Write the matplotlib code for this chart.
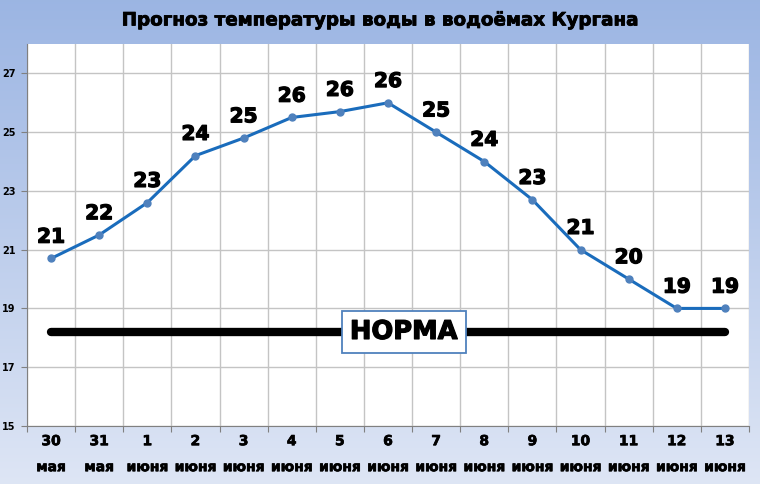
import numpy as np
import matplotlib.pyplot as plt
import matplotlib.patheffects as pe

days = ["30", "31", "1", "2", "3", "4", "5", "6", "7", "8", "9", "10", "11", "12", "13"]
months = ["мая", "мая"] + ["июня"] * 13
temps = [20.7, 21.5, 22.6, 24.2, 24.8, 25.5, 25.7, 26.0, 25.0, 24.0, 22.7, 21.0, 20.0, 19.0, 19.0]
labels = ["21", "22", "23", "24", "25", "26", "26", "26", "25", "24", "23", "21", "20", "19", "19"]
norm = 18.2

plt.rcParams['font.family'] = ['DejaVu Sans']
heavy = [pe.withStroke(linewidth=0.9, foreground="black")]

fig = plt.figure(figsize=(7.6, 4.84), dpi=100)

# background gradient
bg = fig.add_axes([0, 0, 1, 1], zorder=-10)
grad = np.linspace(0, 1, 256).reshape(-1, 1)
top = np.array([0.61, 0.71, 0.89])
bot = np.array([0.87, 0.90, 0.96])
img = top + (bot - top) * grad[:, :, None]
bg.imshow(img, aspect="auto", extent=[0, 1, 0, 1])
bg.axis("off")

ax = fig.add_axes([0.0355, 0.12, 0.95, 0.789])
ax.set_facecolor("white")
x = np.arange(len(days))

ax.plot([x[0], x[-1]], [norm, norm], color="black", linewidth=6, solid_capstyle="round", zorder=3)
ax.plot(x, temps, color="#1a6cbc", linewidth=2.2, marker="o", markersize=5,
        markerfacecolor="#4f81bd", markeredgecolor="#4f81bd", zorder=4)

for xi, t, lab in zip(x, temps, labels):
    ax.text(xi, t + 0.4, lab, ha="center", va="bottom", fontsize=14.5, fontweight="bold",
            zorder=5, path_effects=heavy)

ax.text(7.33, norm, "НОРМА", ha="center", va="center", fontsize=18.5,
        fontweight="bold", zorder=6, path_effects=heavy,
        bbox=dict(boxstyle="square,pad=0.3", facecolor="white", edgecolor="#4f81bd", linewidth=1.3))

ax.set_xlim(-0.5, len(days) - 0.5)
ax.set_ylim(15, 28)
ax.set_yticks([15, 17, 19, 21, 23, 25, 27])
ax.set_xticks(np.arange(-0.5, len(days), 1))
ax.set_xticklabels([])
ax.tick_params(axis="y", labelsize=7, length=4, color="#808080", pad=4)
ax.tick_params(axis="x", length=4, color="#808080")
for lab in ax.get_yticklabels():
    lab.set_fontweight("bold")
ax.grid(True, color="#c4c4c4", linewidth=1)
ax.set_axisbelow(True)
for s in ["top", "right"]:
    ax.spines[s].set_visible(False)
for s in ["left", "bottom"]:
    ax.spines[s].set_color("#808080")

for xi, d, m in zip(x, days, months):
    ax.text(xi, -0.04, d, transform=ax.get_xaxis_transform(), ha="center", va="center",
            fontsize=10, fontweight="bold", path_effects=[pe.withStroke(linewidth=0.5, foreground="black")])
    ax.text(xi, -0.108, m, transform=ax.get_xaxis_transform(), ha="center", va="center",
            fontsize=10, fontweight="bold", path_effects=[pe.withStroke(linewidth=0.5, foreground="black")])

fig.text(0.5, 0.958, "Прогноз температуры воды в водоёмах Кургана", ha="center", va="center",
         fontsize=13.2, fontweight="bold", path_effects=[pe.withStroke(linewidth=0.6, foreground="black")])

fig.savefig("out.png", dpi=100)
